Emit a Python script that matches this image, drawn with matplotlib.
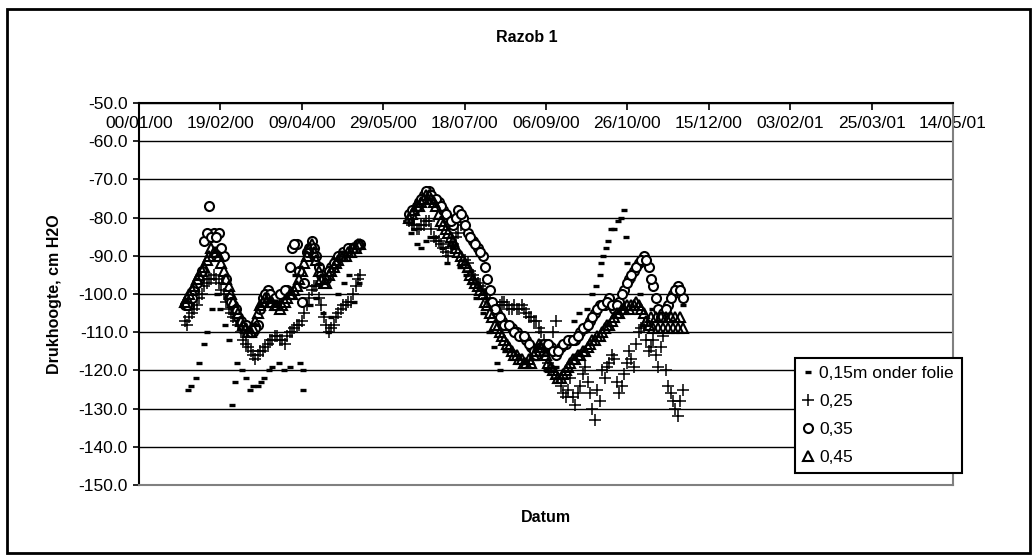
import matplotlib.pyplot as plt
import numpy as np
from matplotlib.patches import Rectangle

plt.rcParams['font.family'] = ['Liberation Sans', 'DejaVu Sans']

# x = days since 00/01/00 (Excel day zero of 2000)
tick_days = [0, 50, 100, 150, 200, 250, 300, 350, 400, 450, 500]
tick_labels = ['00/01/00', '19/02/00', '09/04/00', '29/05/00', '18/07/00',
               '06/09/00', '26/10/00', '15/12/00', '03/02/01', '25/03/01',
               '14/05/01']

# measurement days: two campaigns, two readings every third day
days_a = np.arange(28, 137, 3)
days_b = np.arange(166, 335, 3)
days_a2 = np.arange(29.5, 136, 3)
days_b2 = np.arange(167.5, 334, 3)

# 0,45 m
d45_a = [-102, -100, -98, -95, -93, -90, -89, -90, -94, -98,
         -102, -105, -108, -110, -109, -105, -102, -101, -102, -103,
         -103, -101, -100, -98, -94, -90, -87, -91, -96, -97,
         -94, -92, -90, -90, -89, -88, -87]
d45_b = [-80, -78, -77, -75, -74, -76, -79, -82, -84, -86,
         -89, -91, -93, -96, -98, -100, -103, -106, -109, -111,
         -113, -115, -116, -117, -118, -118, -115, -114, -116, -119,
         -121, -122, -120, -118, -117, -116, -115, -113, -112, -111,
         -109, -108, -106, -105, -104, -104, -103, -103, -105, -108,
         -109, -109, -109, -109, -109, -109, -109]
d45_a2 = [-101, -99, -96, -94, -91, -88, -89, -92, -96, -100,
          -104, -107, -109, -110, -107, -103, -101, -102, -103, -104,
          -102, -100, -99, -96, -92, -88, -89, -94, -97, -95,
          -93, -91, -90, -89, -88, -87]
d45_b2 = [-79, -77, -76, -74, -75, -77, -81, -83, -85, -88,
          -90, -92, -95, -97, -99, -102, -105, -108, -110, -112,
          -114, -116, -117, -118, -117, -116, -113, -115, -118, -120,
          -122, -121, -119, -117, -116, -115, -114, -112, -111, -110,
          -108, -107, -105, -104, -103, -103, -102, -104, -107, -106,
          -106, -106, -106, -106, -106, -106]

# 0,35 m
d35_a = [-103, -103, -99, -96, -86, -77, -84, -84, -90, -101,
         -103, -106, -108, -109, -110, -108, -101, -99, -101, -101,
         -100, -99, -88, -87, -102, -89, -86, -90, -95, -96,
         -93, -91, -90, -89, -88, -88, -87]
d35_b = [-79, -78, -76, -74, -73, -75, -76, -78, -80, -82,
         -78, -80, -84, -86, -88, -90, -96, -102, -105, -107,
         -108, -109, -110, -111, -112, -114, -116, -114, -113, -114,
         -116, -114, -113, -112, -112, -110, -109, -107, -105, -103,
         -103, -101, -104, -102, -99, -96, -94, -92, -90, -93,
         -98, -104, -105, -103, -100, -98, -101]
d35_a2 = [-103, -101, -97, -94, -84, -85, -85, -88, -96, -102,
          -104, -107, -108, -110, -109, -104, -100, -100, -101, -100,
          -99, -93, -87, -94, -97, -88, -88, -93, -96, -94,
          -92, -90, -89, -88, -88, -87]
d35_b2 = [-78, -77, -75, -73, -74, -75, -77, -79, -81, -80,
          -79, -82, -85, -87, -89, -93, -99, -104, -106, -108,
          -108, -110, -111, -111, -113, -115, -115, -113, -113, -115,
          -115, -113, -112, -112, -111, -109, -108, -106, -104, -103,
          -102, -103, -103, -100, -97, -95, -93, -91, -91, -96,
          -101, -106, -104, -101, -99, -99]

# 0,25 m
d25_a = [-107, -106, -104, -101, -98, -96, -95, -97, -100, -104,
         -106, -108, -112, -114, -116, -116, -115, -113, -112, -111,
         -112, -111, -110, -108, -107, -103, -99, -98, -103, -108,
         -109, -106, -104, -103, -102, -98, -95]
d25_b = [-81, -82, -83, -82, -81, -85, -86, -88, -90, -87,
         -84, -80, -92, -95, -97, -99, -101, -103, -104, -102,
         -103, -104, -104, -103, -105, -106, -107, -110, -115, -120,
         -107, -124, -127, -122, -129, -124, -119, -126, -133, -128,
         -122, -118, -117, -126, -121, -115, -119, -110, -108, -115,
         -112, -119, -111, -124, -128, -132, -125]
d25_a2 = [-108, -105, -103, -100, -97, -96, -96, -99, -102, -105,
          -107, -110, -113, -115, -117, -115, -114, -112, -111, -112,
          -113, -110, -109, -108, -105, -101, -98, -101, -106, -110,
          -108, -105, -103, -102, -100, -96]
d25_b2 = [-82, -83, -82, -81, -83, -86, -87, -89, -88, -85,
          -82, -91, -94, -96, -98, -100, -102, -103, -103, -102,
          -104, -103, -104, -104, -106, -107, -109, -112, -118, -110,
          -122, -126, -125, -127, -126, -121, -123, -130, -125, -120,
          -119, -116, -123, -124, -118, -117, -113, -109, -112, -114,
          -116, -114, -120, -126, -130, -128]

# 0,15 m onder folie (fewer readings)
d15_days = [30, 32, 35, 37, 40, 42, 45, 48, 50, 53,
            55, 57, 59, 60, 63, 66, 68, 70, 73, 75,
            77, 80, 82, 86, 89, 93, 96, 99, 101, 101,
            105, 109, 113, 116, 118, 122, 126, 129, 132, 135,
            167, 169, 171, 173, 176, 179, 182, 186, 189, 193,
            197, 201, 204, 207, 211, 215, 218, 220, 222, 225,
            229, 233, 238, 244, 250, 256, 262, 267, 270, 272,
            275, 278, 281, 283, 284, 285, 287, 288, 290, 292,
            294, 296, 298, 299, 300, 303, 308, 315, 322, 328,
            334]
d15_vals = [-125, -124, -122, -118, -113, -110, -104, -100, -104, -108,
            -112, -129, -123, -118, -120, -122, -125, -124, -124, -123,
            -122, -120, -119, -118, -120, -119, -95, -118, -120, -125,
            -103, -101, -105, -110, -106, -100, -97, -95, -102, -97,
            -84, -83, -87, -88, -86, -85, -85, -88, -92, -88,
            -93, -95, -97, -101, -105, -110, -114, -118, -120, -115,
            -115, -116, -118, -117, -120, -119, -112, -107, -105, -109,
            -104, -100, -98, -95, -92, -90, -88, -86, -83, -83,
            -81, -80, -78, -85, -92, -96, -100, -104, -104, -107,
            -103]

days_all = np.concatenate([days_a, days_b, days_a2, days_b2])
d45 = d45_a + d45_b + d45_a2 + d45_b2
d35 = d35_a + d35_b + d35_a2 + d35_b2
d25 = d25_a + d25_b + d25_a2 + d25_b2

fig = plt.figure(figsize=(10.34, 5.55), dpi=100)
ax = fig.add_axes([139/1034, 1-485/555, (953-139)/1034, (485-103)/555])

ax.plot(d15_days, d15_vals, ls='none', marker='_', ms=4.5, mew=2.4,
        color='black', label='0,15m onder folie', zorder=3)
ax.plot(days_all, d25, ls='none', marker='+', ms=8, mew=1.1,
        color='black', label='0,25', zorder=4)
ax.plot(days_all, d35, ls='none', marker='o', ms=6.5, mew=1.5,
        mfc='white', mec='black', label='0,35', zorder=5)
ax.plot(days_all, d45, ls='none', marker='^', ms=6.5, mew=1.5,
        mfc='none', mec='black', label='0,45', zorder=6)

ax.set_xlim(0, 500)
ax.set_ylim(-150, -50)
ax.set_yticks(np.arange(-150, -49, 10))
ax.set_yticklabels(['%.1f' % v for v in np.arange(-150, -49, 10)])
ax.yaxis.grid(True, color='black', lw=1.0)
ax.set_axisbelow(True)

ax.set_xticks(tick_days)
ax.set_xticklabels(tick_labels)
ax.tick_params(axis='x', bottom=False, labelbottom=False, top=True,
               labeltop=True, direction='in', length=5, width=1.2,
               pad=-20, labelsize=12.5)
ax.tick_params(axis='y', direction='out', length=4, width=1.2, pad=4,
               labelsize=12.5)

ax.spines['top'].set_linewidth(1.5)
ax.spines['left'].set_linewidth(1.5)
ax.spines['right'].set_color('#808080')
ax.spines['right'].set_linewidth(1.5)
ax.spines['bottom'].set_color('#808080')
ax.spines['bottom'].set_linewidth(1.5)

fig.text(527/1034, 1-37/555, 'Razob 1', ha='center', va='center',
         fontsize=11.5, fontweight='bold')
fig.text(546/1034, 1-517/555, 'Datum', ha='center', va='center',
         fontsize=11.5, fontweight='bold')
fig.text(55/1034, 1-294/555, 'Drukhoogte, cm H2O', ha='center',
         va='center', rotation=90, fontsize=11.5, fontweight='bold')

lgd = ax.legend(loc='upper left', bbox_to_anchor=(795/1034, 1-358/555),
                bbox_transform=fig.transFigure, fontsize=12.5,
                frameon=True, fancybox=False, edgecolor='black',
                framealpha=1, borderpad=0.45, labelspacing=0.75,
                handlelength=0.6, handletextpad=0.35, borderaxespad=0)
lgd.get_frame().set_linewidth(1.5)
lgd.set_zorder(10)

fig.patches.append(Rectangle((6.5/1034, 0.003), (1030-6.5)/1034,
                             1-9/555-0.003, transform=fig.transFigure,
                             fill=False, edgecolor='black', lw=2))

fig.savefig('out.png', dpi=100)
